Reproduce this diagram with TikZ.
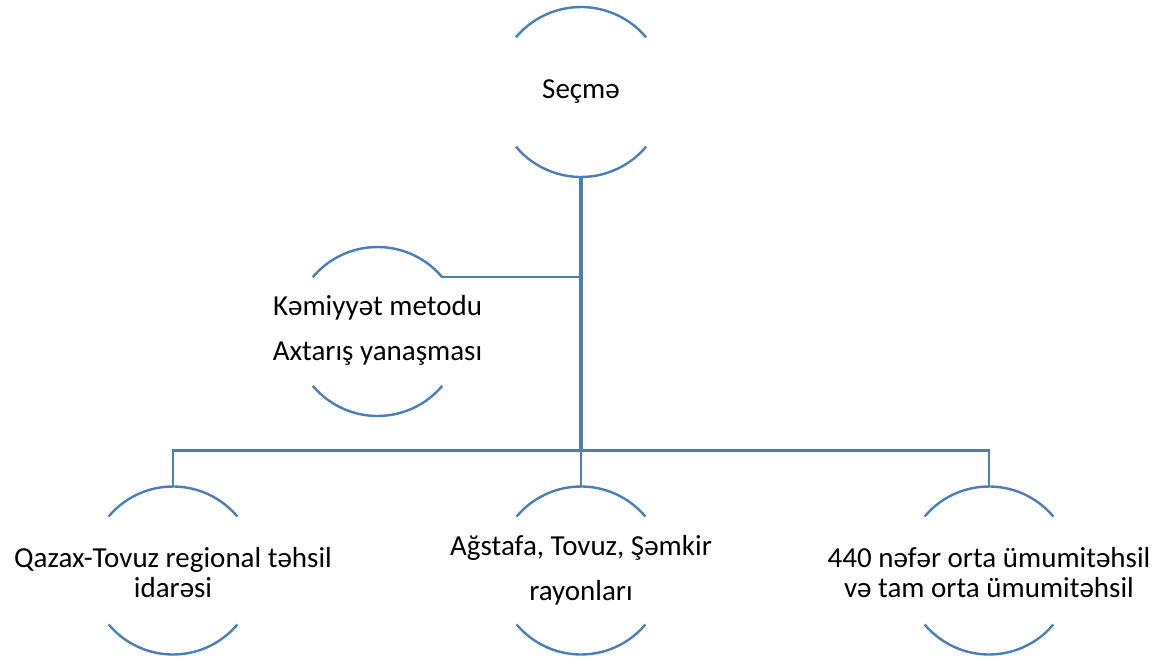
\documentclass[tikz,border=0pt]{standalone}
\usepackage{fontspec}
\setmainfont{Carlito}
\definecolor{lineblue}{HTML}{4A7EBB}
\begin{document}
\begin{tikzpicture}[x=1pt,y=1pt,
  circ/.style={circle,draw=none,inner sep=0pt,outer sep=0pt,minimum size=#1},
  arcln/.style={draw=lineblue,line width=2.4pt},
  conn/.style={draw=lineblue,line width=2.5pt},
  trunk/.style={draw=lineblue,line width=3.2pt},
  txt/.style={align=center,inner sep=0pt,text=black,font=\fontsize{29}{30}\selectfont},
  txtwide/.style={align=center,inner sep=0pt,text=black,font=\fontsize{29}{45}\selectfont}]
\useasboundingbox (0,0) rectangle (1158,-658);
% invisible circle frames
\node[circ=170pt] (c1) at (581,-92) {};
\node[circ=169pt] (c2) at (377.5,-331.5) {};
\node[circ=168pt] (c3) at (173,-570.5) {};
\node[circ=168pt] (c4) at (581,-570.5) {};
\node[circ=168pt] (c5) at (989,-570.5) {};
% arcs
\foreach \c/\r in {c1/85,c2/84.5,c3/84,c4/84,c5/84}{
  \draw[arcln] (\c.40) arc[start angle=40,end angle=140,radius=\r pt];
  \draw[arcln] (\c.220) arc[start angle=220,end angle=320,radius=\r pt];
}
% texts
\node[txt] (t1) at (c1) {Seçmə};
\node[txtwide] (t2) at ([yshift=1pt]c2) {Kəmiyyət metodu\\Axtarış yanaşması};
\node[txt] (t3) at ([yshift=-2pt]c3) {Qazax-Tovuz regional təhsil\\idarəsi};
\node[txtwide] (t4) at (c4) {Ağstafa, Tovuz, Şəmkir\\rayonları};
\node[txt] (t5) at ([yshift=-2pt]c5) {440 nəfər orta ümumitəhsil\\və tam orta ümumitəhsil};
% connectors
\coordinate (bar) at (581,-450.5);
\draw[trunk] (c1.south) -- (bar);
\draw[conn] (c2.40) -- (c2.40 -| c1.south);
\draw[conn] (c3.north) |- (bar) -| (c5.north);
\draw[conn] (c4.north) -- (bar);
\end{tikzpicture}
\end{document}
